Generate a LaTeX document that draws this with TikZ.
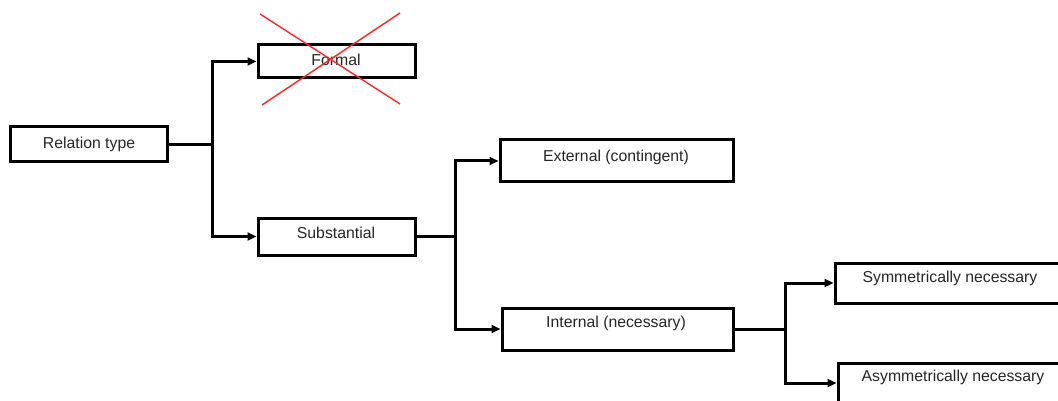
\documentclass[tikz,border=0pt]{standalone}
\usepackage{fontspec}
\setmainfont{Liberation Sans}
\usetikzlibrary{arrows.meta}
\begin{document}
\begin{tikzpicture}[x=1pt,y=-1pt,
  box/.style={draw=black,line width=3pt,fill=white,inner sep=0pt},
  lbl/.style={font=\fontsize{15.8}{18}\selectfont,text=black!85,inner sep=0pt},
  stem/.style={draw=black,line width=3pt},
  link/.style={stem,-{Triangle[length=9pt,width=8pt]}},
  cross/.style={draw=red!85!white,line width=1.4pt}]
\useasboundingbox (0,0) rectangle (1058,401);
\clip (0,0) rectangle (1058,401);

% boxes
\node[box,minimum width=157pt,minimum height=35pt] (rel) at (88.5,144.5) {};
\node[box,minimum width=157pt,minimum height=33pt] (formal) at (336.5,61.5) {};
\node[box,minimum width=157pt,minimum height=37pt] (subs) at (336.5,236.5) {};
\node[box,minimum width=233pt,minimum height=42pt] (ext) at (616.5,161) {};
\node[box,minimum width=231pt,minimum height=42pt] (int) at (617.5,329) {};
\node[box,minimum width=232pt,minimum height=40pt] (sym) at (951,283) {};
\node[box,minimum width=232pt,minimum height=40pt] (asym) at (954,383) {};

% labels
\node[lbl] (rel-t) at (89,144) {Relation type};
\node[lbl] (formal-t) at (336,60) {Formal};
\node[lbl] (subs-t) at (336,233) {Substantial};
\node[lbl] (ext-t) at (616,157) {External (contingent)};
\node[lbl] (int-t) at (616,323) {Internal (necessary)};
\node[lbl] (sym-t) at (950,278) {Symmetrically necessary};
\node[lbl] (asym-t) at (953,377) {Asymmetrically necessary};

% branch points
\coordinate (b1) at (212,144.5);
\coordinate (b2) at (455,236.5);
\coordinate (b3) at (785,329);

% connectors
\draw[stem] (rel.east) -- (b1);
\draw[link] (b1) |- (formal.west);
\draw[link] (b1) |- (subs.west);
\draw[stem] (subs.east) -- (b2);
\draw[link] (b2) |- (ext.west);
\draw[link] (b2) |- (int.west);
\draw[stem] (int.east) -- (b3);
\draw[link] (b3) |- (sym.west);
\draw[link] (b3) |- (asym.west);

% strike-through cross over the formal box
\coordinate (xa) at (260,14);
\coordinate (xb) at (400,104);
\coordinate (xc) at (400,13);
\coordinate (xd) at (262,105);
\draw[cross] (xa) -- (xb);
\draw[cross] (xc) -- (xd);
\end{tikzpicture}
\end{document}
